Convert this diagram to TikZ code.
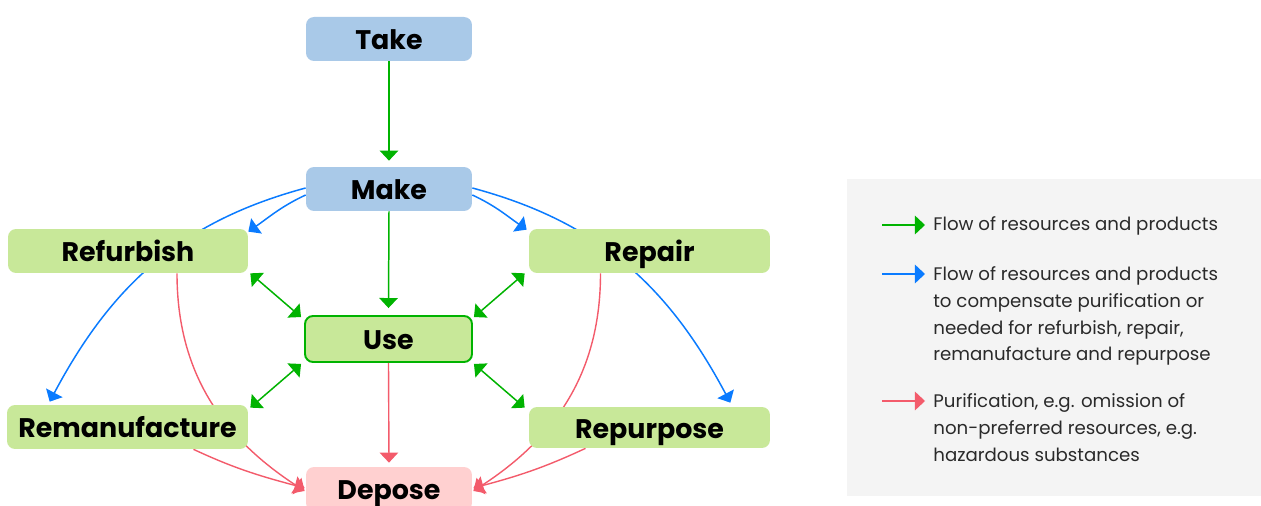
\documentclass[tikz,border=0pt]{standalone}
\usepackage{fontspec}
\setmainfont{Poppins}
\usetikzlibrary{arrows.meta,backgrounds,calc}
\definecolor{nblue}{HTML}{A9C9E8}
\definecolor{ngreen}{HTML}{C8E899}
\definecolor{npink}{HTML}{FFD0D0}
\definecolor{agreen}{HTML}{00B300}
\definecolor{ablue}{HTML}{0A7BFF}
\definecolor{ared}{HTML}{F35B6B}
\definecolor{lgray}{HTML}{F4F4F4}
\definecolor{ltext}{HTML}{2A2A2A}
\begin{document}
\begin{tikzpicture}[x=0.02cm,y=0.02cm,
  box/.style={rounded corners=0.16cm, minimum height=0.88cm, inner sep=0pt,
    text height=12pt, text depth=0pt,
    font=\fontsize{15.3}{18}\selectfont\bfseries},
  tipend/.style={-{Triangle[width=10.5pt,length=5.7pt]}},
  dtip/.style={{Triangle[width=10.5pt,length=5.7pt]}-{Triangle[width=10.5pt,length=5.7pt]}},
  gflow/.style={draw=agreen,line width=0.85pt},
  bflow/.style={draw=ablue,line width=0.85pt},
  rflow/.style={draw=ared,line width=0.8pt},
  legtext/.style={anchor=base west,inner sep=0pt,align=left,text=ltext,
    font=\fontsize{10.35}{15.35}\selectfont}]
\clip (0,0) rectangle (1261,-506);
\node[box,fill=nblue,minimum width=3.32cm] (take) at (389,-39) {Take};
\node[box,fill=nblue,minimum width=3.32cm] (make) at (389,-189) {Make};
\node[box,fill=ngreen,minimum width=4.8cm] (refurbish) at (128,-251) {Refurbish};
\node[box,fill=ngreen,minimum width=4.82cm] (repair) at (649.5,-251) {Repair};
\node[box,fill=ngreen,draw=agreen,line width=1.1pt,minimum width=3.34cm,minimum height=0.92cm] (use) at (388.5,-339) {Use};
\node[box,fill=ngreen,minimum width=4.82cm] (reman) at (127.5,-427) {Remanufacture};
\node[box,fill=ngreen,minimum width=4.82cm,minimum height=0.82cm] (repurpose) at (649.5,-427.5) {Repurpose};
\node[box,fill=npink,minimum width=3.32cm] (depose) at (389,-489) {Depose};

\begin{pgfonlayer}{background}
  \fill[lgray] (847,-179) rectangle (1261,-496);
  % green straight
  \draw[gflow,tipend] (take.south) -- ($(make.north)+(0,6)$);
  \draw[gflow,tipend] (make.south) -- ($(use.north)+(0,7)$);
  \draw[rflow,tipend] (use.south) -- ($(depose.north)+(0,4)$);
  % blue
  \draw[bflow,tipend] ($(make.west)+(0,-6)$) to[out=205,in=35] ($(refurbish.north east)+(0,-3)$);
  \draw[bflow,tipend] ($(make.west)+(0,1)$) to[out=195,in=62] ($(reman.north west)+(43,3)$);
  \draw[bflow,tipend] ($(make.east)+(0,-6)$) to[out=-25,in=145] ($(repair.north west)+(-2,-1)$);
  \draw[bflow,tipend] ($(make.east)+(0,1)$) to[out=-15,in=118] ($(repurpose.north east)+(-40,4)$);
  % red
  \draw[rflow,tipend] ($(refurbish.south)+(49,0)$) to[out=-90,in=147] ($(depose.west)+(-1,-2)$);
  \draw[rflow,tipend] ($(reman.south)+(66,0)$) to[out=-25,in=165] ($(depose.west)+(-1,1)$);
  \draw[rflow,tipend] ($(repair.south)+(-49,0)$) to[out=-90,in=33] ($(depose.east)+(1,-2)$);
  \draw[rflow,tipend] ($(repurpose.south)+(-64,0)$) to[out=205,in=15] ($(depose.east)+(1,1)$);
  % green double
  \draw[gflow,dtip] ($(refurbish.south east)+(2,0)$) -- ($(use.north west)+(-3,-2)$);
  \draw[gflow,dtip] ($(reman.north east)+(2,-3)$) -- ($(use.south west)+(-3,-1)$);
  \draw[gflow,dtip] ($(repair.south west)+(-4,0)$) -- ($(use.north east)+(1,-2)$);
  \draw[gflow,dtip] ($(repurpose.north west)+(-4,-1)$) -- ($(use.south east)+(1,-1)$);
\end{pgfonlayer}

% legend
\coordinate (g0) at (882,-225); \coordinate (g1) at (925,-225);
\coordinate (b0) at (882,-274); \coordinate (b1) at (925,-274);
\coordinate (r0) at (882,-401); \coordinate (r1) at (925,-401);
\draw[gflow,tipend] (g0) -- (g1);
\draw[bflow,tipend] (b0) -- (b1);
\draw[rflow,tipend] (r0) -- (r1);
\node[legtext] (lg) at (933,-231) {Flow of resources and products};
\node[legtext] (lb) at (933,-361) {Flow of resources and products\\to compensate purification or\\needed for refurbish, repair,\\remanufacture and repurpose};
\node[legtext] (lr) at (933,-461) {Purification, e.g. omission of\\non-preferred resources, e.g.\\hazardous substances};
\end{tikzpicture}
\end{document}
